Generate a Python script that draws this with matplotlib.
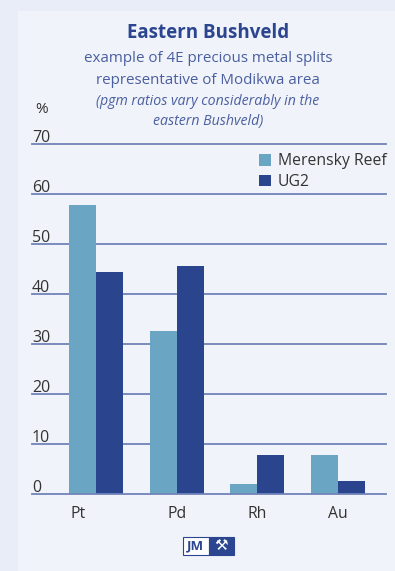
import matplotlib
matplotlib.use("Agg")
import matplotlib.pyplot as plt
import numpy as np
from matplotlib.patches import Rectangle
import matplotlib.transforms as mtransforms

categories = ["Pt", "Pd", "Rh", "Au"]
merensky = [57.7, 32.5, 1.9, 7.7]
ug2 = [44.3, 45.5, 7.7, 2.5]
yticks = [0, 10, 20, 30, 40, 50, 60, 70]
series_names = ["Merensky Reef", "UG2"]

W, H = 395, 571
plt.rcParams['font.family'] = ['Open Sans', 'DejaVu Sans']
fig = plt.figure(figsize=(W / 100, H / 100), dpi=100)
fig.patch.set_facecolor("#e8edf7")
# inner panel
fig.patches.append(Rectangle((18 / W, 0), 1 - 18 / W, 1 - 11 / H, transform=fig.transFigure,
                             facecolor="#f0f3fa", edgecolor="none", zorder=-10))

light = "#6aa5c4"
dark = "#2a448e"
grid_c = "#7083b8"
text_c = "#333333"
title_c = "#2b4590"
sub_c = "#4a5fa0"

ax_left, ax_right = 32 / W, 386 / W
ax_bottom = (H - 493.7) / H
ax_height = 350 / H
ax = fig.add_axes([ax_left, ax_bottom, ax_right - ax_left, ax_height])
ax.set_zorder(1)
ax.set_facecolor("none")
for s in ax.spines.values():
    s.set_visible(False)

x = np.arange(len(categories))
w = 0.335
ax.bar(x - w / 2, merensky, width=w, color=light, zorder=3, label=series_names[0])
ax.bar(x + w / 2, ug2, width=w, color=dark, zorder=3, label=series_names[1])
ax.set_xlim(-0.80, 3.6)
ax.set_ylim(0, 70)
for t in yticks:
    ax.axhline(t, color=grid_c, lw=1.3, zorder=2 if t > 0 else 4, clip_on=False)
trans = mtransforms.blended_transform_factory(ax.transAxes, ax.transData)
for t in yticks:
    ax.text(0.0, t + 0.4, str(t), transform=trans, ha="left", va="baseline",
            fontsize=11.5, color=text_c)
ax.set_yticks([])
ax.set_xticks(x)
ax.set_xticklabels(categories, fontsize=11.3, color=text_c)
ax.tick_params(axis="x", length=0, pad=9)
# the first label sits left of its group in the original
lbl0 = ax.get_xticklabels()[0]
lbl0.set_transform(lbl0.get_transform() + mtransforms.ScaledTranslation(-18 / 100, 0, fig.dpi_scale_trans))

leg = ax.legend(loc="upper right", bbox_to_anchor=(1.02, 0.99), frameon=False, fontsize=11.3,
                handlelength=0.75, handleheight=0.75, handletextpad=0.45, labelspacing=0.3,
                borderaxespad=0, labelcolor=text_c)

fig.text(208 / W, 1 - 33 / H, "Eastern Bushveld", ha="center", va="center",
         fontsize=13.5, fontweight="bold", color=title_c)
fig.text(208 / W, 1 - 59 / H, "example of 4E precious metal splits", ha="center", va="center",
         fontsize=10.9, color=sub_c)
fig.text(208 / W, 1 - 80 / H, "representative of Modikwa area", ha="center", va="center",
         fontsize=10.9, color=sub_c)
fig.text(208 / W, 1 - 101.5 / H, "(pgm ratios vary considerably in the", ha="center", va="center",
         fontsize=10.2, style="italic", color=sub_c)
fig.text(208 / W, 1 - 121.5 / H, "eastern Bushveld)", ha="center", va="center",
         fontsize=10.2, style="italic", color=sub_c)
fig.text(42 / W, 1 - 110 / H, "%", ha="center", va="center", fontsize=11, color=text_c)

# JM logo
fig.patches.append(Rectangle((183 / W, 1 - 555 / H), 26 / W, 18 / H, transform=fig.transFigure,
                             facecolor="white", edgecolor=title_c, lw=0.8, zorder=5))
fig.patches.append(Rectangle((209 / W, 1 - 555 / H), 25 / W, 18 / H, transform=fig.transFigure,
                             facecolor=title_c, edgecolor=title_c, lw=0.8, zorder=5))
fig.text(196 / W, 1 - 546 / H, "JM", ha="center", va="center", fontsize=9.5,
         fontweight="bold", color=title_c, zorder=6)
fig.text(221.5 / W, 1 - 546 / H, "\u2692", ha="center", va="center", fontsize=11,
         color="white", family="DejaVu Sans", zorder=6)

fig.savefig("out.png", dpi=100, facecolor=fig.get_facecolor())
